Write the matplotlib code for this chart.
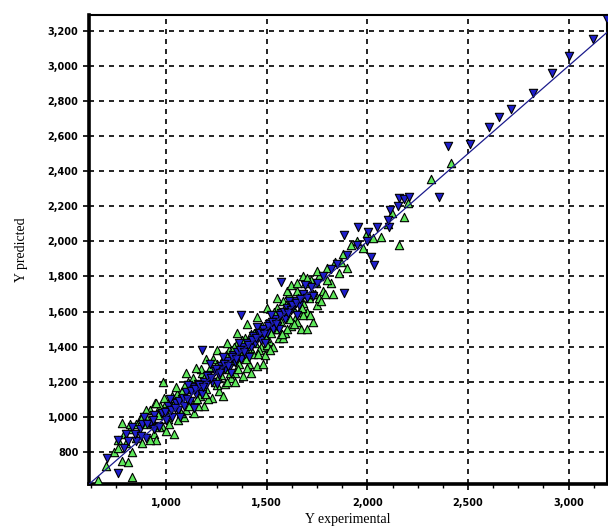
import matplotlib.pyplot as plt
from matplotlib.ticker import FuncFormatter, MultipleLocator

# green (up triangles)
green_x = [660, 780, 810, 830, 780, 985, 760, 790, 820, 850, 870, 900, 920, 940, 960, 980,
           1000, 1010, 1030, 1050, 1060, 1080, 1100, 1110, 1120, 1140, 1150, 1170, 1180, 1190,
           1200, 1220, 1230, 1240, 1250, 1260, 1270, 1280, 1290, 1300, 1310, 1320, 1330, 1340,
           1350, 1360, 1370, 1380, 1390, 1400, 1410, 1420, 1430, 1440, 1450, 1460, 1470, 1480,
           1490, 1500, 1510, 1520, 1530, 1540, 1550, 1560, 1570, 1580, 1590, 1600, 1610, 1620,
           1630, 1640, 1650, 1660, 1670, 1680, 1690, 1700, 1710, 1720, 1730, 1740, 1750, 1760,
           1780, 1800, 1820, 1840, 1860, 1880, 1900, 1920, 1950, 1980, 2000, 2030, 2070, 2100,
           2120, 2155, 2180, 2200, 2315, 2415,
           700, 740, 760, 800, 830, 850, 880, 900, 930, 950, 970, 1000, 1020, 1040, 1070, 1090,
           1130, 1160, 1190, 1210, 1250, 1280, 1300, 1340, 1360, 1400, 1420, 1440, 1460, 1480,
           1500, 1520, 1550, 1580, 1600, 1620, 1650, 1680, 1700, 1730, 1760, 1800, 1830, 1870,
           900, 920, 945, 965, 990, 1015, 1035, 1055, 1075, 1095, 1115, 1135, 1155, 1175, 1195,
           1215, 1235, 1255, 1275, 1295, 1315, 1335, 1355, 1375, 1395, 1415, 1435, 1455, 1475,
           1495, 1515, 1535, 1555, 1575, 1595, 1615, 1635, 1655, 1675, 1695, 1715, 1745, 1770,
           1790,
           820, 880, 950, 1050, 1100, 1150, 1200, 1250, 1300, 1350, 1400, 1450, 1500, 1550,
           1600, 1620, 1650, 1680, 1700, 1750]
green_y = [640, 750, 743, 657, 965, 1200, 870, 900, 930, 880, 990, 960, 1040, 900, 1010, 950,
           1080, 990, 1120, 1060, 980, 1150, 1040, 1200, 1100, 1020, 1180, 1120, 1250, 1060,
           1160, 1280, 1110, 1200, 1300, 1150, 1240, 1330, 1190, 1270, 1380, 1220, 1320, 1250,
           1420, 1300, 1350, 1230, 1450, 1380, 1300, 1470, 1360, 1420, 1290, 1500, 1400, 1460,
           1350, 1520, 1430, 1560, 1400, 1500, 1620, 1450, 1540, 1660, 1480, 1580, 1700, 1520,
           1620, 1560, 1720, 1600, 1500, 1650, 1760, 1600, 1680, 1780, 1540, 1700, 1640, 1800,
           1720, 1850, 1760, 1880, 1820, 1930, 1850, 1980, 2000, 1960, 2050, 2020, 2026, 2100,
           2160, 1980, 2140, 2220, 2356, 2448,
           720, 800, 820, 850, 800, 960, 850, 1040, 980, 870, 1060, 920, 1030, 900, 1100, 1000,
           1160, 1060, 1220, 1100, 1180, 1120, 1200, 1200, 1400, 1280, 1250, 1480, 1380, 1300,
           1410, 1480, 1560, 1450, 1500, 1640, 1540, 1580, 1500, 1700, 1680, 1780, 1700, 1880,
           1000, 870, 1080, 940, 1110, 960, 1070, 1130, 1020, 1180, 1060, 1220, 1100, 1270, 1130,
           1230, 1330, 1220, 1290, 1350, 1250, 1400, 1270, 1440, 1330, 1390, 1480, 1360, 1520,
           1450, 1380, 1600, 1500, 1470, 1640, 1560, 1530, 1680, 1620, 1700, 1580, 1760, 1660,
           1700,
           960, 1000, 1080, 1170, 1250, 1280, 1330, 1380, 1420, 1480, 1530, 1570, 1620, 1680,
           1720, 1750, 1760, 1800, 1790, 1830]

# blue (down triangles)
blue_x = [705, 760, 1180, 1370, 1570, 1885, 1955, 1885, 2005, 2020, 2035, 2105, 2110, 2155,
          2180, 2205, 2355, 2400, 2510, 2605, 2655, 2715, 2825, 2920, 3000, 3120, 3190,
          760, 790, 800, 830, 850, 870, 890, 900, 920, 940, 960, 980, 1000, 1010, 1030, 1050,
          1060, 1080, 1090, 1100, 1120, 1130, 1150, 1160, 1170, 1190, 1200, 1210, 1230, 1240,
          1260, 1270, 1290, 1300, 1310, 1330, 1340, 1350, 1370, 1380, 1390, 1400, 1420, 1430,
          1440, 1460, 1470, 1480, 1500, 1510, 1530, 1540, 1550, 1570, 1590, 1600, 1620, 1640,
          1660, 1680, 1700, 1720, 1750, 1780, 1820, 1850, 1900, 1950, 2000, 2050, 2100, 2150,
          880, 940, 1020, 1070, 1110, 1140, 1180, 1220, 1250, 1280, 1320, 1360, 1410, 1450,
          1490, 1520, 1560, 1610, 1650, 1690, 1730,
          810, 845, 875, 905, 935, 965, 995, 1025, 1045, 1065, 1085, 1105, 1125, 1145, 1165,
          1185, 1205, 1225, 1245, 1265, 1285, 1305, 1325, 1345, 1365, 1385, 1405, 1425, 1445,
          1465, 1485, 1505, 1525, 1545, 1565, 1585, 1605, 1625, 1645, 1665]
blue_y = [766, 680, 1382, 1580, 1769, 1706, 2083, 2037, 2054, 1912, 1866, 2083, 2180, 2250,
          2240, 2255, 2254, 2544, 2556, 2653, 2710, 2755, 2846, 2960, 3058, 3154, 3265,
          870, 820, 900, 940, 860, 930, 1000, 880, 960, 1010, 950, 1020, 980, 1060, 1000, 1080,
          1040, 1100, 1060, 1140, 1090, 1170, 1130, 1190, 1150, 1200, 1180, 1240, 1200, 1260,
          1240, 1290, 1270, 1320, 1280, 1350, 1310, 1370, 1330, 1400, 1360, 1420, 1400, 1460,
          1420, 1470, 1440, 1500, 1480, 1530, 1500, 1560, 1520, 1590, 1560, 1620, 1610, 1660,
          1640, 1700, 1680, 1740, 1760, 1800, 1840, 1870, 1920, 1980, 2000, 2080, 2120, 2200,
          960, 930, 1100, 1000, 1180, 1050, 1130, 1300, 1190, 1340, 1250, 1420, 1340, 1510,
          1420, 1580, 1500, 1660, 1580, 1750, 1690,
          860, 900, 890, 960, 980, 940, 1030, 1040, 1050, 1090, 1110, 1100, 1150, 1160, 1180,
          1170, 1230, 1220, 1270, 1250, 1300, 1290, 1340, 1330, 1380, 1370, 1410, 1440, 1450,
          1480, 1470, 1520, 1540, 1530, 1580, 1600, 1590, 1640, 1650, 1670]

line_x = [600, 3300]

fig = plt.figure(figsize=(6.08, 5.3), dpi=100)
ax = fig.add_axes([0.146, 0.087, 0.852, 0.885])

ax.scatter(green_x, green_y, marker='^', s=36, c='#5ee85a', edgecolors='black',
           linewidths=0.8, zorder=3)
ax.scatter(blue_x, blue_y, marker='v', s=36, c='#1e1ecc', edgecolors='black',
           linewidths=0.8, zorder=4)
ax.plot(line_x, line_x, color='#1a1a8c', lw=0.9, zorder=5)

ax.set_xlim(615, 3190)
ax.set_ylim(618, 3291)
ax.set_xticks([1000, 1500, 2000, 2500, 3000])
ax.set_yticks(range(800, 3201, 200))
ax.xaxis.set_minor_locator(MultipleLocator(125))
fmt = FuncFormatter(lambda v, p: '{:,.0f}'.format(v))
ax.xaxis.set_major_formatter(fmt)
ax.yaxis.set_major_formatter(fmt)
ax.tick_params(axis='both', which='major', direction='out', length=4, width=1.2,
               labelsize=7)
ax.tick_params(axis='x', which='major', pad=6)
ax.tick_params(axis='x', which='minor', direction='out', length=3, width=1)
for lab in ax.get_xticklabels() + ax.get_yticklabels():
    lab.set_fontweight('bold')

ax.grid(True, which='major', color='black', linestyle=(0, (3, 3)), linewidth=1.2)
ax.set_axisbelow(True)
ax.spines['left'].set_linewidth(2.6)
ax.spines['bottom'].set_linewidth(2.6)
ax.spines['top'].set_linewidth(1.5)
ax.spines['right'].set_linewidth(1.5)

ax.set_xlabel('Y experimental', family='Liberation Serif', fontsize=10, labelpad=4)
ax.set_ylabel('Y predicted', family='Liberation Serif', fontsize=10, labelpad=14)

fig.savefig('out.png', dpi=100)
